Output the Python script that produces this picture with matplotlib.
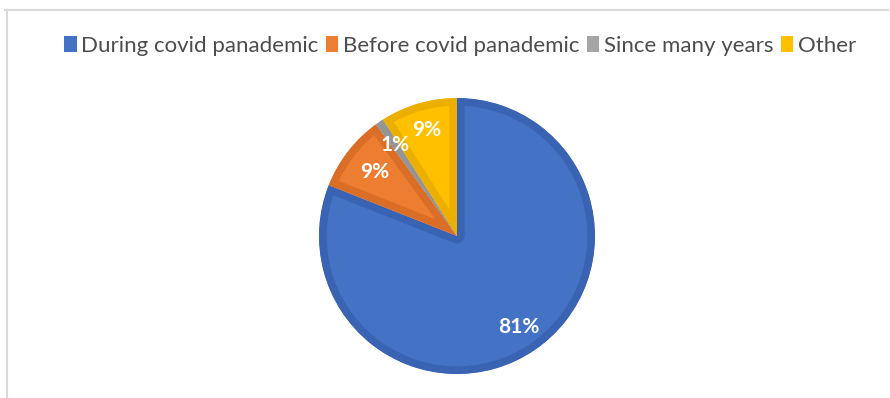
import matplotlib
matplotlib.use("Agg")
import matplotlib.pyplot as plt
from matplotlib.lines import Line2D
from matplotlib.patches import Patch

# Data
labels = ["During covid panademic", "Before covid panademic", "Since many years", "Other"]
shares = [81, 9, 1, 9]
colors = ["#4472C4", "#ED7D31", "#A5A5A5", "#FFC000"]
edge_colors = ["#3A64B3", "#DA6E26", "#959595", "#ECAF00"]

plt.rcParams['font.family'] = ['Lato', 'DejaVu Sans']

fig = plt.figure(figsize=(8.9, 3.98), dpi=100)

# chart frame (top and left edge visible)
fig.add_artist(Line2D([5 / 890, 888 / 890], [1 - 10 / 398, 1 - 10 / 398], color="#D9D9D9", lw=1.5))
fig.add_artist(Line2D([7 / 890, 7 / 890], [1 - 10 / 398, 0], color="#D9D9D9", lw=1.5))

ax = fig.add_axes([(457 - 138) / 890, (162 - 138) / 398, 276 / 890, 276 / 398])
wedges, texts, autotexts = ax.pie(shares, colors=colors, startangle=90, counterclock=False,
                                  autopct='%1.0f%%', pctdistance=0.8, radius=1,
                                  textprops=dict(color="white", fontsize=15, fontweight="bold"))
# darker inner border on every slice
for w, ec in zip(wedges, edge_colors):
    w.set_edgecolor(ec)
    w.set_linewidth(11)
    w.set_joinstyle('round')
    w.set_clip_path(w)
    w.set_clip_on(True)
autotexts[1].set_position((autotexts[1].get_position()[0] * 0.94, autotexts[1].get_position()[1] * 0.94))
ax.set_xlim(-1, 1)
ax.set_ylim(-1, 1)
ax.set_aspect('equal')
ax.axis('off')

handles = [Patch(facecolor=c, edgecolor='none') for c in colors]
fig.legend(handles, labels, loc='center', bbox_to_anchor=(0.517, 1 - 46 / 398), ncol=4,
           frameon=False, fontsize=16, labelcolor="#4D4D4D",
           handlelength=0.55, handleheight=0.7, handletextpad=0.2, columnspacing=0.35)

fig.savefig('out.png', dpi=100)
